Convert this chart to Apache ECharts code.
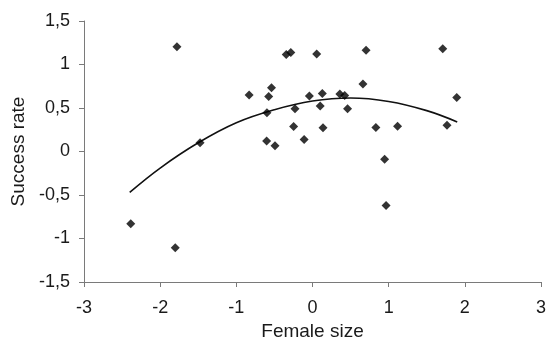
<!DOCTYPE html>
<html>
<head>
<meta charset="utf-8">
<script src="https://cdn.jsdelivr.net/npm/echarts@6/dist/echarts.min.js"></script>
<style>
  html, body { margin: 0; padding: 0; background: #fff; }
  #chart { width: 550px; height: 343px; }
</style>
</head>
<body>
<div id="chart"></div>
<script>
// Female size (standardised) against breeding success rate
const femaleSize = [
  -1.78, -0.345, -0.285, 0.055, 0.703, 1.710, 0.662, -0.832,
  -0.538, -0.575, -0.041, 0.129, 0.359, 0.423, 1.894, -0.598,
  -0.230, 0.101, 0.460, -0.248, 0.138, 0.832, 1.117, 1.766,
  -0.602, -0.492, -0.110, -1.476, 0.947, 0.966, -2.386, -1.802
];
const successRate = [
  1.203, 1.115, 1.138, 1.122, 1.165, 1.180, 0.776, 0.649,
  0.734, 0.633, 0.637, 0.668, 0.660, 0.645, 0.622, 0.445,
  0.491, 0.522, 0.491, 0.287, 0.272, 0.275, 0.291, 0.302,
  0.121, 0.067, 0.137, 0.102, -0.090, -0.622, -0.830, -1.107
];

// Quadratic trend curve, sampled along the size axis
const trendX = [-2.4, -2.0, -1.5, -1.0, -0.5, 0.0, 0.5, 1.0, 1.5, 1.9];
const trendY = [-0.47, -0.19, 0.10, 0.33, 0.48, 0.58, 0.615, 0.575, 0.47, 0.34];

// Axis ranges and tick steps
const xTicks = [-3, -2, -1, 0, 1, 2, 3];
const yTicks = [-1.5, -1, -0.5, 0, 0.5, 1, 1.5];

const FONT = '"Liberation Sans", Arial, sans-serif';
const TEXT = '#1a1a1a';
const AXIS = '#7a7a7a';
const decimalComma = v => String(v).replace('.', ',');

const chart = echarts.init(document.getElementById('chart'), null, { renderer: 'canvas' });

chart.setOption({
  backgroundColor: '#ffffff',
  animation: false,
  grid: { left: 84, right: 9, top: 21, bottom: 61, outerBoundsMode: 'none', containLabel: false },
  xAxis: {
    type: 'value',
    min: xTicks[0],
    max: xTicks[xTicks.length - 1],
    interval: 1,
    name: 'Female size',
    nameLocation: 'middle',
    nameGap: 40,
    nameTextStyle: { fontFamily: FONT, fontSize: 19, color: TEXT },
    axisLine: { onZero: false, lineStyle: { color: AXIS, width: 1 } },
    axisTick: { show: true, inside: false, length: 5, lineStyle: { color: AXIS } },
    axisLabel: { fontFamily: FONT, fontSize: 18, color: TEXT, margin: 17, formatter: decimalComma },
    splitLine: { show: false }
  },
  yAxis: {
    type: 'value',
    min: yTicks[0],
    max: yTicks[yTicks.length - 1],
    interval: 0.5,
    name: 'Success rate',
    nameLocation: 'middle',
    nameGap: 52,
    nameTextStyle: { fontFamily: FONT, fontSize: 19, color: TEXT },
    axisLine: { show: true, onZero: false, lineStyle: { color: AXIS, width: 1 } },
    axisTick: { show: true, inside: false, length: 5, lineStyle: { color: AXIS } },
    axisLabel: { fontFamily: FONT, fontSize: 18, color: TEXT, margin: 14, formatter: decimalComma },
    splitLine: { show: false }
  },
  series: [
    {
      type: 'line',
      data: trendX.map((x, i) => [x, trendY[i]]),
      smooth: 0.4,
      showSymbol: false,
      lineStyle: { color: '#111', width: 1.6 },
      z: 2
    },
    {
      type: 'scatter',
      data: femaleSize.map((x, i) => [x, successRate[i]]),
      symbol: 'diamond',
      symbolSize: 9,
      itemStyle: { color: '#000' },
      z: 3
    }
  ]
});
</script>
</body>
</html>
